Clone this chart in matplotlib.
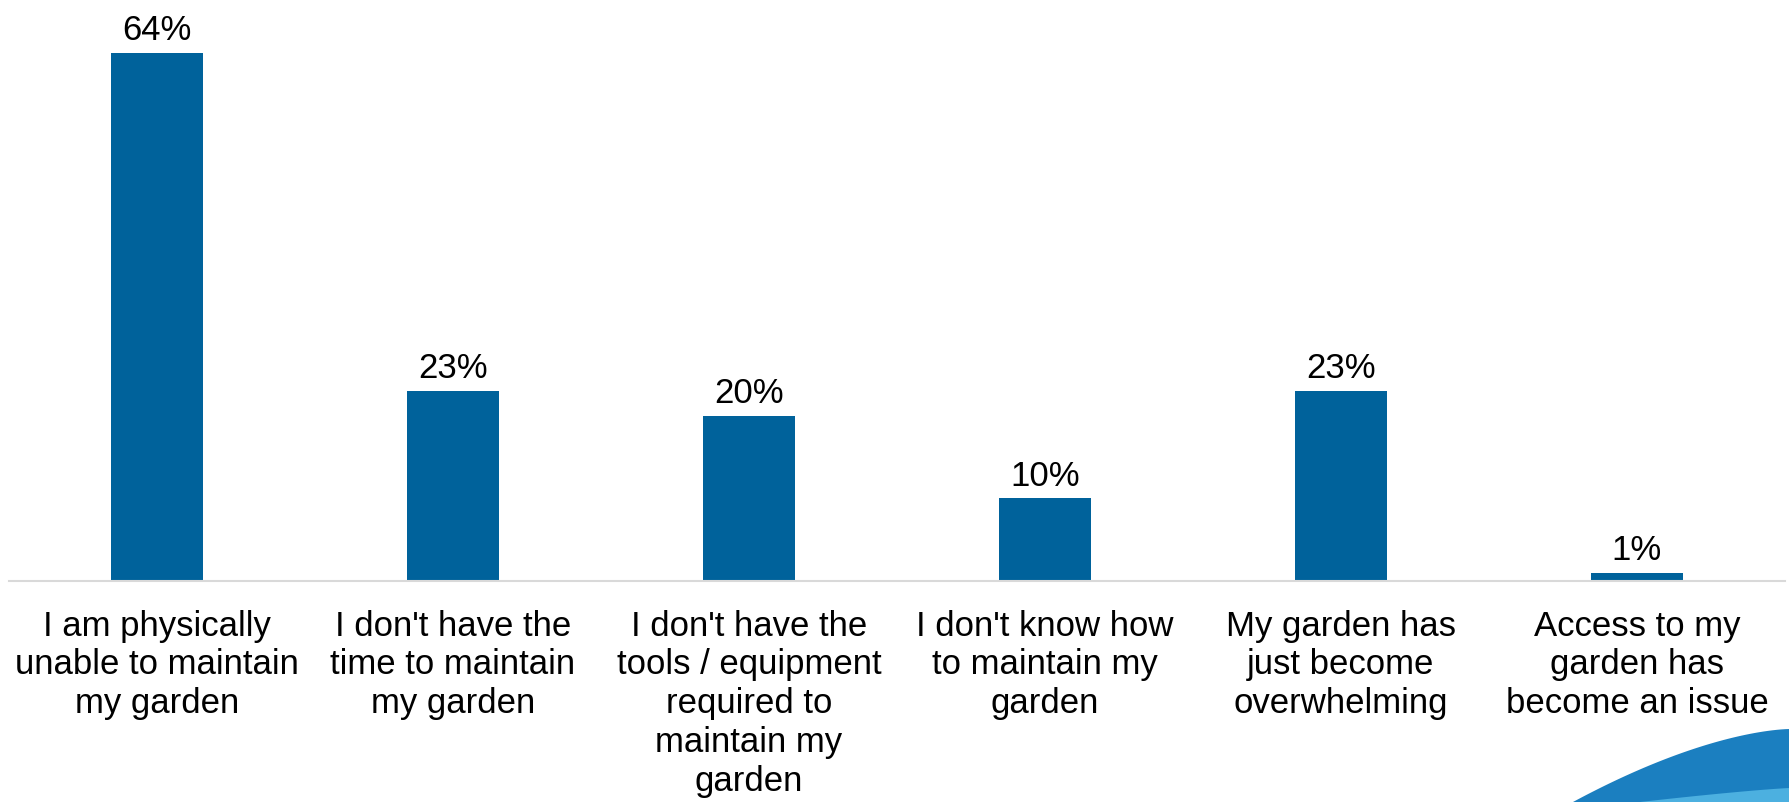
import numpy as np
import matplotlib
matplotlib.use("Agg")
from matplotlib import pyplot as plt
from matplotlib.patches import Polygon

categories = [
    "I am physically\nunable to maintain\nmy garden",
    "I don't have the\ntime to maintain\nmy garden",
    "I don't have the\ntools / equipment\nrequired to\nmaintain my\ngarden",
    "I don't know how\nto maintain my\ngarden",
    "My garden has\njust become\noverwhelming",
    "Access to my\ngarden has\nbecome an issue",
]
values = [64, 23, 20, 10, 23, 1]

plt.rcParams["font.family"] = ["Liberation Sans", "DejaVu Sans"]

fig = plt.figure(figsize=(17.9, 8.03), dpi=100)
ax = fig.add_axes([9 / 1790, 1 - 582 / 803, 1776 / 1790, 582 / 803])

x = np.arange(len(categories))
bars = ax.bar(x, values, width=0.31, color="#00629B")
for b, v in zip(bars, values):
    ax.annotate(f"{v}%", (b.get_x() + b.get_width() / 2, v), xytext=(0, 5),
                textcoords="offset points", ha="center", va="bottom", fontsize=25)

ax.set_xlim(-0.5, len(categories) - 0.5)
ax.set_ylim(0, 70.5)
ax.set_xticks(x)
ax.set_xticklabels(categories, fontsize=25, linespacing=1.22, va="top")
ax.tick_params(axis="x", length=0, pad=20)
ax.set_yticks([])
for s in ["top", "right", "left"]:
    ax.spines[s].set_visible(False)
ax.spines["bottom"].set_color("#d9d9d9")
ax.spines["bottom"].set_linewidth(1.5)

# decorative swoosh bottom right
t = np.linspace(0, 1, 50)
xs = (1573 + (1790 - 1573) * t) / 1790
ys = 1 - (803 - (803 - 730) * (1 - (1 - t) ** 1.6)) / 803
pts = list(zip(xs, ys)) + [(1.0, 0.0)]
fig.patches.append(Polygon(pts, closed=True, transform=fig.transFigure,
                           facecolor="#1b7fc0", edgecolor="none"))
ys2 = 1 - (803 - 14 * (1 - (1 - t) ** 1.2)) / 803
xs2 = (1640 + (1790 - 1640) * t) / 1790
pts2 = list(zip(xs2, ys2)) + [(1.0, 0.0)]
fig.patches.append(Polygon(pts2, closed=True, transform=fig.transFigure,
                           facecolor="#4cb0e0", edgecolor="none"))

fig.savefig("out.png", dpi=100)
